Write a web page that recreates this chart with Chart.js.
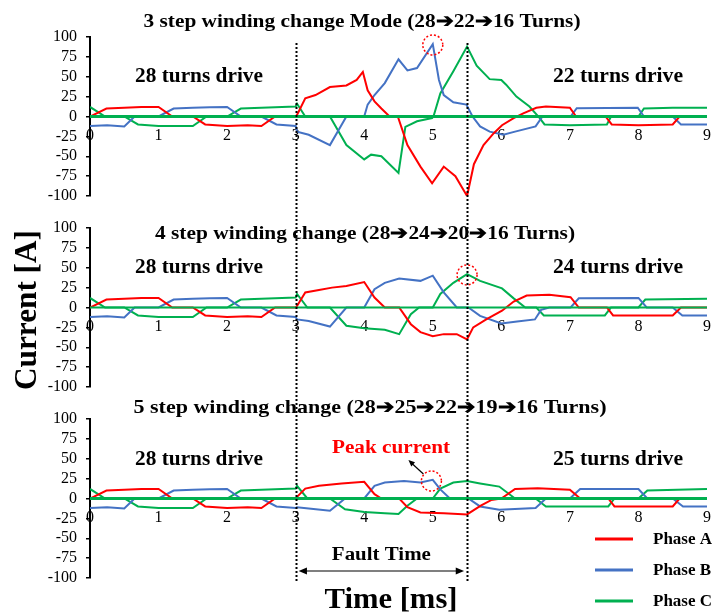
<!DOCTYPE html>
<html>
<head>
<meta charset="utf-8">
<script src="https://cdn.jsdelivr.net/npm/chart.js@4.4.1/dist/chart.umd.min.js"></script>
<style>
  body { margin: 0; background: #fff; }
  #wrap { position: relative; width: 721px; height: 616px; }
  #wrap canvas { position: absolute; left: 0; top: 0; }
</style>
</head>
<body>
<div id="wrap">
  <canvas id="c1" width="721" height="616"></canvas>
  <canvas id="c2" width="721" height="616"></canvas>
  <canvas id="c3" width="721" height="616"></canvas>
</div>
<script>
// ---- data (time in ms, current in A) ----
var seriesNames = ['Phase A', 'Phase B', 'Phase C'];

// normal drive before the fault, same for all three cases
var preTimeA = [0, 0.24, 0.5, 0.75, 1.0, 1.2, 1.5, 1.68, 2.0, 2.3, 2.5, 2.7, 3.0];
var preA     = [0, 10, 11, 12, 12, 0, 0, -10, -12, -11, -12, 0, 0];
var preTimeB = [0, 0.25, 0.5, 0.65, 1.0, 1.22, 1.5, 1.75, 2.0, 2.2, 2.5, 2.72, 3.0];
var preB     = [-12, -11, -12.5, 0, 0, 10, 11, 11.5, 12, 0, 0, -10, -12];
var preTimeC = [0, 0.22, 0.5, 0.7, 1.0, 1.5, 1.7, 2.0, 2.2, 2.5, 2.8, 3.0];
var preC     = [12, 0, 0, -10, -12, -12, 0, 0, 10, 11, 12, 12.5];

// 3 step winding change
var step3TimeA = [3.02, 3.14, 3.29, 3.5, 3.74, 3.89, 3.98, 4.05, 4.15, 4.25, 4.37, 4.49, 4.63, 4.82, 4.99, 5.16, 5.33, 5.5, 5.6, 5.74, 5.89, 6.01, 6.18, 6.32, 6.51, 6.65, 7.0, 7.09, 7.52, 7.61, 8.0, 8.5, 8.6, 9.0];
var step3A     = [2, 23, 27, 37, 39, 46, 56, 33, 19, 10, 0, 0, -36, -63, -84, -63, -75, -100, -60, -36, -21, -11, -2, 4, 11, 12.5, 11, 0, 0, -10, -11, -10, 0, 0];
var step3TimeB = [3.02, 3.19, 3.5, 3.74, 4.0, 4.05, 4.15, 4.3, 4.5, 4.63, 4.77, 5.0, 5.09, 5.16, 5.3, 5.49, 5.58, 5.69, 5.83, 6.03, 6.2, 6.5, 6.6, 7.01, 7.1, 7.99, 8.08, 8.5, 8.62, 9.0];
var step3B     = [-19, -23, -36, 0, 0, 15, 27, 42, 72, 58, 61, 91, 46, 27, 18, 15, 0, -12.5, -19, -23, -19, -12.5, 0, 0, 10.5, 11, 0, 0, -10, -10];
var step3TimeC = [3.02, 3.14, 3.5, 3.74, 4.0, 4.1, 4.25, 4.5, 4.6, 4.77, 4.99, 5.01, 5.11, 5.3, 5.5, 5.64, 5.83, 6.0, 6.07, 6.22, 6.41, 6.56, 6.63, 7.0, 7.54, 7.6, 8.0, 8.08, 8.5, 9.0];
var step3C     = [16, 0, 0, -36, -54, -48, -50, -71, -13, -6, -2, 0, 29, 57, 88, 64, 47, 46, 40, 25, 12.5, -2, -10, -11, -10, 0, 0, 10, 11, 11];

// 4 step winding change
var step4TimeA = [3.02, 3.14, 3.34, 3.53, 3.74, 4.0, 4.15, 4.3, 4.51, 4.68, 4.82, 5.0, 5.16, 5.35, 5.5, 5.59, 5.78, 6.01, 6.18, 6.37, 6.7, 7.01, 7.13, 7.54, 7.63, 8.5, 8.62, 9.0];
var step4A     = [2, 19, 22, 25, 27, 32, 12.5, 0, 0, -21, -31, -36, -33.5, -33.5, -40, -25, -15, -4, 7.5, 15, 16, 13, 0, 0, -10, -10, 0, 0];
var step4TimeB = [3.02, 3.19, 3.5, 3.74, 4.0, 4.15, 4.3, 4.51, 4.82, 5.0, 5.16, 5.35, 5.52, 5.69, 6.0, 6.23, 6.49, 6.58, 6.7, 7.01, 7.13, 8.0, 8.12, 8.5, 8.64, 9.0];
var step4B     = [-15, -17, -24, 0, 0, 23, 31, 36.5, 33.5, 40, 19, 0, 0, -10.5, -20, -17.5, -15, -3, 0, 0, 11.5, 12, 0, 0, -10, -10];
var step4TimeC = [3.02, 3.17, 3.5, 3.74, 4.0, 4.3, 4.51, 4.68, 4.8, 5.0, 5.11, 5.3, 5.5, 5.69, 6.01, 6.18, 6.35, 6.51, 6.62, 7.51, 7.6, 8.0, 8.1, 9.0];
var step4C     = [17, 0, 0, -23, -26, -28, -33.5, -8.5, 0, 0, 17, 31, 42, 33.5, 24, 11.5, 0, 0, -10, -10, 0, 0, 10, 11];

// 5 step winding change
var step5TimeA = [3.02, 3.14, 3.34, 3.67, 4.0, 4.15, 4.25, 4.51, 4.63, 4.82, 5.16, 5.5, 5.7, 5.85, 6.0, 6.2, 6.53, 7.0, 7.15, 7.56, 7.65, 8.5, 8.6, 9.0];
var step5A     = [2, 12.5, 16, 19, 21, 5.5, 0, 0, -11, -17.5, -18.5, -20, -9, -2, 0, 12, 13, 11, 0, 0, -10, -10, 0, 0];
var step5TimeB = [3.02, 3.19, 3.5, 3.72, 4.0, 4.15, 4.3, 4.58, 4.82, 5.0, 5.11, 5.25, 5.52, 5.69, 5.97, 6.5, 6.65, 7.0, 7.15, 8.0, 8.13, 8.5, 8.65, 9.0];
var step5B     = [-11, -12.5, -15.5, 0, 0, 16, 20, 22, 20, 23.5, 11.5, 0, 0, -10, -14, -12, 0, 0, 12, 12, 0, 0, -10, -10];
var step5TimeC = [3.02, 3.17, 3.5, 3.72, 4.0, 4.3, 4.5, 4.63, 4.77, 5.0, 5.11, 5.3, 5.5, 5.69, 5.97, 6.2, 6.5, 6.65, 7.56, 7.65, 8.0, 8.13, 9.0];
var step5C     = [16, 0, 0, -13.5, -17, -18.5, -19.5, -9, 0, 0, 12.5, 20, 22, 19, 15, 0, 0, -10, -10, 0, 0, 10, 12];

// annotations
var faultTimes = [3, 5.5];
var peakTimes  = [5.0, 5.5, 4.98];
var peakValues = [90, 41, 22];
var panelTitles = [
  '3 step winding change Mode (28➔22➔16 Turns)',
  '4 step winding change (28➔24➔20➔16 Turns)',
  '5 step winding change (28➔25➔22➔19➔16 Turns)'
];
var beforeLabels = ['28 turns drive', '28 turns drive', '28 turns drive'];
var afterLabels  = ['22 turns drive', '24 turns drive', '25 turns drive'];

var colors = ['#ff0000', '#4472c4', '#00b050'];
var serif = '"Liberation Serif", "Times New Roman", serif';

function toPoints(t1, v1, t2, v2) {
  var pts = [];
  for (var i = 0; i < t1.length; i++) pts.push({x: t1[i], y: v1[i]});
  for (var j = 0; j < t2.length; j++) pts.push({x: t2[j], y: v2[j]});
  return pts;
}

// draw text stretched to a given width (the source figure is wide)
function wideText(ctx, text, cx, base, size, width, color) {
  ctx.save();
  ctx.font = 'bold ' + size + 'px ' + serif;
  var w = ctx.measureText(text).width;
  ctx.translate(cx, base);
  ctx.scale(width / w, 1);
  ctx.fillStyle = color || '#000';
  ctx.textAlign = 'center';
  ctx.textBaseline = 'alphabetic';
  ctx.fillText(text, 0, 0);
  ctx.restore();
}

function arrowHead(ctx, x, y, ang, len) {
  ctx.beginPath();
  ctx.moveTo(x, y);
  ctx.lineTo(x - len * Math.cos(ang - 0.4), y - len * Math.sin(ang - 0.4));
  ctx.lineTo(x - len * Math.cos(ang + 0.4), y - len * Math.sin(ang + 0.4));
  ctx.closePath();
  ctx.fill();
}

var panelPlugin = {
  id: 'panel',
  afterDatasetsDraw: function (chart, args, opts) {
    var ctx = chart.ctx;
    var xs = chart.scales.x, ys = chart.scales.y;
    var area = chart.chartArea;
    var y0 = ys.getPixelForValue(0);
    ctx.save();
    // zero line
    ctx.strokeStyle = colors[2];
    ctx.lineWidth = opts.zeroWidth;
    ctx.beginPath();
    ctx.moveTo(area.left, y0);
    ctx.lineTo(area.right, y0);
    ctx.stroke();
    // peak marker
    var i = opts.index;
    var px = xs.getPixelForValue(peakTimes[i]);
    var py = ys.getPixelForValue(peakValues[i]);
    ctx.strokeStyle = '#ff0000';
    ctx.lineWidth = 1.5;
    ctx.setLineDash([2, 2]);
    ctx.beginPath();
    ctx.arc(px, py, 10, 0, Math.PI * 2);
    ctx.stroke();
    ctx.setLineDash([]);
    ctx.restore();
    // texts
    wideText(ctx, panelTitles[i], opts.titleX, opts.titleY, 19, opts.titleW);
    wideText(ctx, beforeLabels[i], 199, opts.labelY, 21, 128);
    wideText(ctx, afterLabels[i], 618, opts.labelY, 21, 130);
  }
};

var overlayPlugin = {
  id: 'overlay',
  afterDraw: function (chart) {
    var ctx = chart.ctx;
    var xs = chart.scales.x, ys = chart.scales.y;
    ctx.save();
    // fault boundaries through all panels
    ctx.strokeStyle = '#000';
    ctx.lineWidth = 2;
    ctx.setLineDash([2, 2]);
    faultTimes.forEach(function (t) {
      var x = Math.round(xs.getPixelForValue(t)) + 0.5;
      ctx.beginPath();
      ctx.moveTo(x, 43);
      ctx.lineTo(x, 583);
      ctx.stroke();
    });
    ctx.setLineDash([]);

    // fault time double arrow
    var xa = xs.getPixelForValue(faultTimes[0]) + 3;
    var xb = xs.getPixelForValue(faultTimes[1]) - 3;
    ctx.lineWidth = 1.2;
    ctx.fillStyle = '#000';
    ctx.beginPath();
    ctx.moveTo(xa + 6, 571);
    ctx.lineTo(xb - 6, 571);
    ctx.stroke();
    arrowHead(ctx, xa, 571, Math.PI, 9);
    arrowHead(ctx, xb, 571, 0, 9);
    wideText(ctx, 'Fault Time', (xa + xb) / 2, 560, 18, 99);

    // peak current label with arrow
    var px = xs.getPixelForValue(peakTimes[2]);
    var py = ys.getPixelForValue(peakValues[2]);
    ctx.beginPath();
    ctx.moveTo(px - 8, py - 7);
    ctx.lineTo(px - 20, py - 18);
    ctx.stroke();
    arrowHead(ctx, px - 23, py - 21, Math.atan2(-11, -12), 7);
    wideText(ctx, 'Peak current', 391, 453, 18, 118, '#ff0000');

    // axis titles
    wideText(ctx, 'Time [ms]', 391, 608, 30, 133);
    ctx.save();
    ctx.translate(36, 310);
    ctx.rotate(-Math.PI / 2);
    wideText(ctx, 'Current [A]', 0, 0, 32, 160);
    ctx.restore();

    // legend
    var ly = [539, 570, 601];
    for (var i = 0; i < 3; i++) {
      ctx.strokeStyle = colors[i];
      ctx.lineWidth = 3;
      ctx.beginPath();
      ctx.moveTo(595, ly[i]);
      ctx.lineTo(633, ly[i]);
      ctx.stroke();
      ctx.font = 'bold 17px ' + serif;
      ctx.fillStyle = '#000';
      ctx.textAlign = 'left';
      ctx.textBaseline = 'middle';
      ctx.fillText(seriesNames[i], 653, ly[i] + 1);
    }
    ctx.restore();
  }
};

function makeChart(id, index, padTop, padBottom, a, b, c, extra) {
  var cfg = {
    type: 'line',
    data: {
      datasets: [a, b, c].map(function (pts, k) {
        return {
          label: seriesNames[k],
          data: pts,
          borderColor: colors[k],
          backgroundColor: colors[k],
          borderWidth: 2,
          pointRadius: 0,
          tension: 0
        };
      })
    },
    options: {
      responsive: false,
      animation: false,
      layout: { padding: { top: padTop, bottom: padBottom, left: 0, right: 5 } },
      plugins: {
        legend: { display: false },
        tooltip: { enabled: false },
        panel: extra
      },
      scales: {
        x: {
          type: 'linear',
          position: { y: 0 },
          min: 0,
          max: 9,
          ticks: { stepSize: 1, autoSkip: false, color: '#000', padding: 10, font: { family: serif, size: 16 } },
          grid: { display: false, drawTicks: false },
          border: { display: false }
        },
        y: {
          min: -100,
          max: 100,
          afterFit: function (scale) { scale.width = 90; },
          ticks: { stepSize: 25, autoSkip: false, color: '#000', padding: 9, font: { family: serif, size: 16 } },
          grid: { drawOnChartArea: false, drawTicks: true, tickLength: 4, color: '#000', lineWidth: 1.5 },
          border: { display: true, color: '#000', width: 2 }
        }
      }
    },
    plugins: [panelPlugin]
  };
  if (index === 2) cfg.plugins.push(overlayPlugin);
  return new Chart(document.getElementById(id), cfg);
}

var chart3 = makeChart('c1', 0, 37, 616 - 196,
  toPoints(preTimeA, preA, step3TimeA, step3A),
  toPoints(preTimeB, preB, step3TimeB, step3B),
  toPoints(preTimeC, preC, step3TimeC, step3C),
  { index: 0, zeroWidth: 3, titleX: 362, titleY: 27, titleW: 437, labelY: 82 });

var chart4 = makeChart('c2', 1, 228, 616 - 387,
  toPoints(preTimeA, preA, step4TimeA, step4A),
  toPoints(preTimeB, preB, step4TimeB, step4B),
  toPoints(preTimeC, preC, step4TimeC, step4C),
  { index: 1, zeroWidth: 2, titleX: 365, titleY: 239, titleW: 420, labelY: 273 });

var chart5 = makeChart('c3', 2, 419, 616 - 578,
  toPoints(preTimeA, preA, step5TimeA, step5A),
  toPoints(preTimeB, preB, step5TimeB, step5B),
  toPoints(preTimeC, preC, step5TimeC, step5C),
  { index: 2, zeroWidth: 3, titleX: 370, titleY: 413, titleW: 473, labelY: 465 });
</script>
</body>
</html>
